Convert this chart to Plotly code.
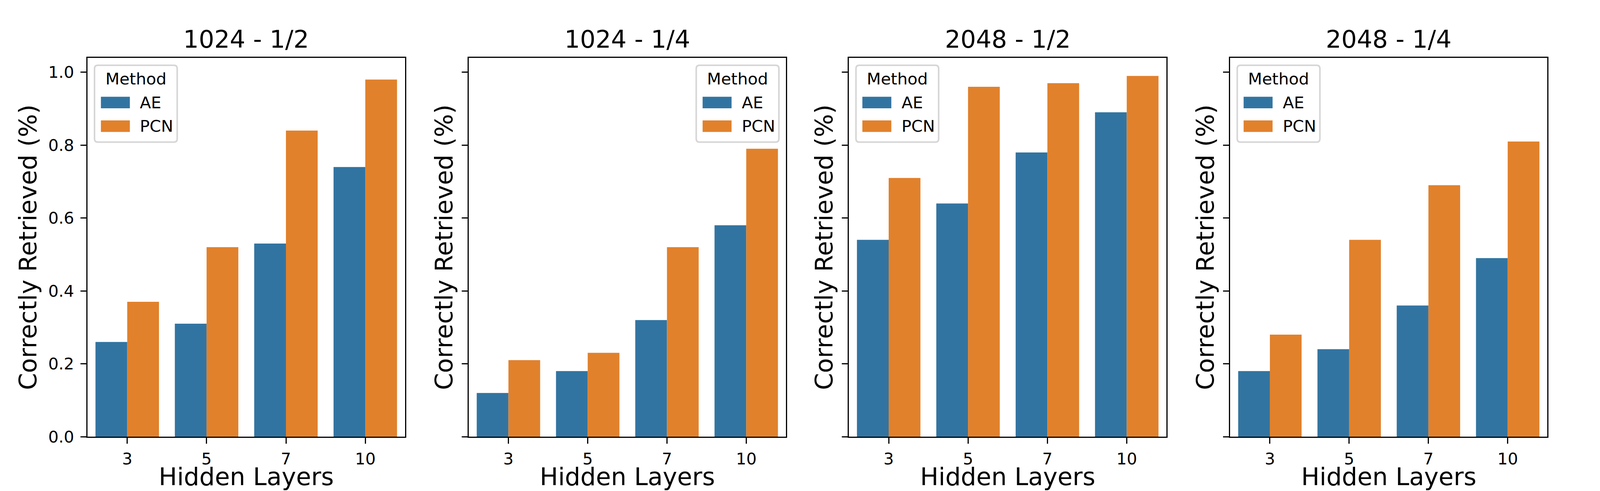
import plotly.graph_objects as go
from plotly.subplots import make_subplots

# ---------------- data ----------------
hidden_layers = ["3", "5", "7", "10"]
panel_titles = ["1024 - 1/2", "1024 - 1/4", "2048 - 1/2", "2048 - 1/4"]
methods = ["AE", "PCN"]

ae_1024_half = [0.26, 0.31, 0.53, 0.74]
pcn_1024_half = [0.37, 0.52, 0.84, 0.98]
ae_1024_quarter = [0.12, 0.18, 0.32, 0.58]
pcn_1024_quarter = [0.21, 0.23, 0.52, 0.79]
ae_2048_half = [0.54, 0.64, 0.78, 0.89]
pcn_2048_half = [0.71, 0.96, 0.97, 0.99]
ae_2048_quarter = [0.18, 0.24, 0.36, 0.49]
pcn_2048_quarter = [0.28, 0.54, 0.69, 0.81]

y_ticks = [0.0, 0.2, 0.4, 0.6, 0.8, 1.0]
y_tick_labels = ["0.0", "0.2", "0.4", "0.6", "0.8", "1.0"]

ae_series = [ae_1024_half, ae_1024_quarter, ae_2048_half, ae_2048_quarter]
pcn_series = [pcn_1024_half, pcn_1024_quarter, pcn_2048_half, pcn_2048_quarter]
legend_locs = ["upper left", "upper right", "upper left", "upper left"]

# ---------------- style / layout ----------------
AE_COLOR = "#3274a1"
PCN_COLOR = "#e1812c"
FONT = "DejaVu Sans"
REF_W = 4587          # reference design width (px)
VIEW_W = 4096         # visible page width in the photographing browser
BODY = 8              # default page margin around the plot div
SX = VIEW_W / REF_W
EST_W = VIEW_W - 2 * BODY
HF = 1248             # figure height (plus the 8px page margin = 1256)
MT, MB = 140, 139
PH = HF - MT - MB
TICK_FS = 41.67
LABEL_FS = 62.5
LW = 3.3

# axes boxes in reference pixels
ax_left = [251, 1344, 2434, 3527]
ax_right = [1161, 2253, 3344, 4436]


def fx(xr):
    """reference-pixel x -> paper fraction (figure is full-width responsive)"""
    return (xr * SX - BODY) / EST_W


def fy(yr):
    """reference-pixel y (from top) -> paper fraction"""
    return (HF - MB - (yr - BODY)) / PH


ymax = max(max(s) for s in ae_series + pcn_series) * 1.05

fig = make_subplots(rows=1, cols=4)

for i in range(4):
    col = i + 1
    fig.add_trace(go.Bar(x=hidden_layers, y=ae_series[i], name=methods[0],
                         marker=dict(color=AE_COLOR, line=dict(width=0)),
                         showlegend=False), row=1, col=col)
    fig.add_trace(go.Bar(x=hidden_layers, y=pcn_series[i], name=methods[1],
                         marker=dict(color=PCN_COLOR, line=dict(width=0)),
                         showlegend=False), row=1, col=col)
    fig.update_xaxes(type="category", range=[-0.5, 3.5],
                     domain=[fx(ax_left[i]), fx(ax_right[i])],
                     showline=True, mirror=True,
                     linecolor="black", linewidth=LW, ticks="outside", ticklen=15,
                     tickwidth=LW, tickcolor="black", showgrid=False, zeroline=False,
                     tickfont=dict(family=FONT, size=TICK_FS, color="black"),
                     ticklabelstandoff=3,
                     title=dict(text="Hidden Layers", font=dict(family=FONT, size=LABEL_FS, color="black"),
                                standoff=2),
                     row=1, col=col)
    fig.update_yaxes(range=[0, ymax], showline=True, mirror=True,
                     linecolor="black", linewidth=LW, ticks="outside", ticklen=15,
                     tickwidth=LW, tickcolor="black", showgrid=False, zeroline=False,
                     tickvals=y_ticks, ticktext=y_tick_labels,
                     showticklabels=(i == 0),
                     tickfont=dict(family=FONT, size=TICK_FS, color="black"),
                     ticklabelstandoff=8,
                     title=dict(text="Correctly Retrieved (%)",
                                font=dict(family=FONT, size=LABEL_FS, color="black"),
                                standoff=10 if i == 0 else 4),
                     row=1, col=col)

annotations = []
shapes = []
for i in range(4):
    left, right = ax_left[i], ax_right[i]
    # subplot title
    annotations.append(dict(text=panel_titles[i], x=fx((left + right) / 2), y=fy(100),
                            xref="paper", yref="paper", xanchor="center", yanchor="middle",
                            showarrow=False, font=dict(family=FONT, size=LABEL_FS, color="black")))
    # legend box (reference pixels)
    bw, bh, r = 237.0, 196.6, 9.0
    bx0 = left + 20 if legend_locs[i] == "upper left" else right - 20 - bw
    by0 = 148 + 19
    bx1, by1 = bx0 + bw, by0 + bh
    pts = [
        ("M", bx0 + r, by0), ("L", bx1 - r, by0), ("Q", bx1, by0, bx1, by0 + r),
        ("L", bx1, by1 - r), ("Q", bx1, by1, bx1 - r, by1),
        ("L", bx0 + r, by1), ("Q", bx0, by1, bx0, by1 - r),
        ("L", bx0, by0 + r), ("Q", bx0, by0, bx0 + r, by0),
    ]
    path = ""
    for p in pts:
        coords = p[1:]
        segs = [f"{fx(coords[k]):.6f},{fy(coords[k + 1]):.6f}" for k in range(0, len(coords), 2)]
        path += p[0] + " ".join(segs) + " "
    path += "Z"
    shapes.append(dict(type="path", path=path, xref="paper", yref="paper",
                       fillcolor="rgba(255,255,255,0.8)", line=dict(color="#d6d6d6", width=4),
                       layer="above"))
    annotations.append(dict(text="Method", x=fx(bx0 + bw / 2), y=fy(by0 + 35),
                            xref="paper", yref="paper",
                            xanchor="center", yanchor="middle", showarrow=False,
                            font=dict(family=FONT, size=TICK_FS, color="black")))
    for j, (m, c) in enumerate(zip(methods, [AE_COLOR, PCN_COLOR])):
        cy = by0 + 95.3 + j * 60.5
        shapes.append(dict(type="rect", x0=fx(bx0 + 18.3), x1=fx(bx0 + 101.3),
                           y0=fy(cy + 14.7), y1=fy(cy - 14.7), xref="paper", yref="paper",
                           fillcolor=c, line=dict(width=0), layer="above"))
        annotations.append(dict(text=m, x=fx(bx0 + 128), y=fy(cy), xref="paper", yref="paper",
                                xanchor="left", yanchor="middle", showarrow=False,
                                font=dict(family=FONT, size=TICK_FS, color="black")))

fig.update_layout(
    autosize=True, height=HF,
    margin=dict(l=0, r=0, t=MT, b=MB, autoexpand=False),
    barmode="group", bargap=0.2, bargroupgap=0.0,
    plot_bgcolor="white", paper_bgcolor="white",
    font=dict(family=FONT, color="black"),
    annotations=annotations, shapes=shapes,
    showlegend=False,
)

fig.write_html("out.html")
